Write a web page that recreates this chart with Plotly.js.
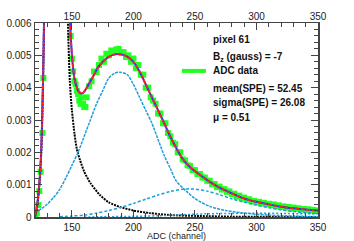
<!DOCTYPE html>
<html><head><meta charset="utf-8">
<script src="https://cdn.plot.ly/plotly-3.0.1.min.js"></script>
<style>html,body{margin:0;padding:0;background:#fff}</style>
</head><body><div id="g" style="width:354px;height:241px"></div>
<script>
// ADC data (green squares)
const dataX = [120.5,121.5,122.7,123.5,124.6,126,126.8,
149,150,151,152,153,154,155,156,157,158,159,160,161,162,
164,166,168,170,172,174,176,178,180,182,184,186,188,190,192,194,196,198,200,
202,204,206,208,210,212,214,216,218,220,222,224,226,228,230,232,234,236,238,240,
242,244,246,248,250,252,254,256,258,260,262,264,266,268,270,272,274,276,278,280,
282,284,286,288,290,292,294,296,298,300,302,304,306,308,310,312,314,316,318,320,
322,324,326,328,330,332,334,336,338,340,342,344,346,348,350];
const dataY = [0.00003,0.00012,0.00037,0.0008,0.0014,0.0026,0.0043,
0.0056,0.0049,0.0045,0.0042,0.0041,0.0039,0.0038,0.0036,0.0035,0.0037,0.0035,0.0034,0.0034,0.0037,
0.00405,0.0042,0.0045,0.00448,0.0047,0.0049,0.0048,0.00505,0.0050,0.00515,0.0051,0.00518,0.0052,0.00508,0.0051,0.00495,0.0050,0.0048,0.0049,
0.0046,0.0047,0.0044,0.0044,0.0040,0.0040,0.0037,0.0036,0.0035,0.0032,0.0032,0.0029,0.0029,0.0026,0.0025,0.0023,0.00225,0.0020,0.0020,0.00178,
0.00175,0.0016,0.00158,0.00145,0.00145,0.00133,0.00133,0.00122,0.00122,0.00112,0.00112,0.00101,0.00102,0.00092,0.00094,0.00085,0.00086,0.00078,0.00079,0.00071,
0.00072,0.00064,0.00066,0.00058,0.0006,0.00053,0.00055,0.00048,0.0005,0.00045,0.00047,0.00042,0.00044,0.00039,0.00041,0.00036,0.00039,0.00033,0.00036,0.00031,
0.00033,0.00029,0.00031,0.00026,0.00029,0.00025,0.00027,0.00023,0.00025,0.00022,0.00024,0.0002,0.00022,0.00019,0.0002];

// total fit
const totX = [120,121,122,123,124,125,125.8,126.4,126.9,127.3,128,130,134,138,142,145,147,148.5,150,151,152,154,156,158,160,162,165,168,170,175,180,185,190,195,200,205,210,215,220,225,230,236,240,244,248,252,256,260,264,268,272,276,280,284,288,292,296,300,305,310,320,330,340,350];
const totY = [0.00005,0.0002,0.00045,0.0008,0.0013,0.002,0.003,0.004,0.005,0.006,0.0085,0.018,0.03,0.033,0.025,0.012,0.0078,0.006,0.005,0.0046,0.0043,0.0040,0.00385,0.00382,0.00388,0.0040,0.0042,0.0044,0.00455,0.0048,0.00495,0.00503,0.00503,0.00496,0.0048,0.0045,0.0041,0.0037,0.0033,0.0029,0.00248,0.00205,0.0018,0.00162,0.00148,0.00136,0.00125,0.00114,0.00104,0.00095,0.00087,0.0008,0.00073,0.00066,0.0006,0.00055,0.0005,0.00047,0.00043,0.00039,0.00032,0.00027,0.00023,0.0002];

// pedestal
const pedX = [120,121,122,123,124,125,125.8,126.4,126.9,127.3,128,130,134,138,142,145,146.8,148.3,150,152,154,156.6,160,165,172.8,180,189,200,213.5,230,254,280,350];
const pedY = [0.00002,0.00015,0.0004,0.00075,0.0012,0.0019,0.0029,0.0039,0.0049,0.0059,0.0084,0.018,0.03,0.033,0.025,0.012,0.006,0.0042,0.0033,0.0026,0.0021,0.00176,0.0014,0.00105,0.00068,0.00045,0.00031,0.0002,0.00012,0.00006,0.00003,0.00001,0.0];

// single photoelectron
const speX = [120,125,130,135,140,145,150,155,160,165,170,175,180,185,189,195,200,205,210,215,220,225,230,235,243,250,262,275,290,310,330,350];
const speY = [0.00015,0.00025,0.0004,0.0006,0.00085,0.0012,0.0016,0.0020,0.0025,0.0030,0.0035,0.0039,0.0043,0.00445,0.00448,0.0044,0.0041,0.0037,0.0033,0.0029,0.0024,0.0019,0.0015,0.0011,0.0008,0.00057,0.00033,0.0002,0.00012,0.00006,0.00003,0.00001];

// two photoelectrons
const pe2X = [140,150,160,170,180,190,200,210,220,230,240,245,250,260,270,280,290,300,310,320,330,340,350];
const pe2Y = [0.00001,0.00003,0.00006,0.00012,0.0002,0.0003,0.00042,0.00055,0.00068,0.00079,0.00086,0.00087,0.00086,0.0008,0.00069,0.00056,0.00046,0.00037,0.00029,0.00022,0.00017,0.00013,0.0001];

// three photoelectrons
const pe3X = [160,180,200,220,240,260,280,300,320,340,350];
const pe3Y = [0.0,0.00001,0.00002,0.00004,0.00007,0.0001,0.00011,0.00012,0.00011,0.0001,0.0001];

const xTicks = [150,200,250,300,350];
const yTicks = [0,0.001,0.002,0.003,0.004,0.005,0.006];
const yTickText = ['0','0.001','0.002','0.003','0.004','0.005','0.006'];

const legendLines = ['pixel 61','B<sub>z</sub> (gauss) = -7','ADC data','mean(SPE) = 52.45','sigma(SPE) = 26.08','\u03bc = 0.51'];
const legendY = [0.916,0.826,0.753,0.663,0.588,0.513];

const blue = '#1a9fdc';
const font = 'Liberation Sans, Arial, sans-serif';

const traces = [
  {x: dataX, y: dataY, type:'scatter', mode:'markers', marker:{symbol:'square', size:6, color:'#22ff22'}, hoverinfo:'skip'},
  {x: pedX, y: pedY, type:'scatter', mode:'lines', line:{color:'#000', width:2, dash:'2px,1px', shape:'spline', smoothing:0.6}, hoverinfo:'skip'},
  {x: speX, y: speY, type:'scatter', mode:'lines', line:{color:blue, width:1.5, dash:'3px,1px', shape:'spline', smoothing:0.8}, hoverinfo:'skip'},
  {x: pe2X, y: pe2Y, type:'scatter', mode:'lines', line:{color:blue, width:1.5, dash:'3px,2px', shape:'spline', smoothing:0.8}, hoverinfo:'skip'},
  {x: pe3X, y: pe3Y, type:'scatter', mode:'lines', line:{color:blue, width:1.5, dash:'2px,2px', shape:'spline', smoothing:0.8}, hoverinfo:'skip'},
  {x: totX, y: totY, type:'scatter', mode:'lines', line:{color:'#2233ff', width:2, shape:'spline', smoothing:0.6}, hoverinfo:'skip'},
  {x: totX, y: totY, type:'scatter', mode:'lines', line:{color:'#ff2222', width:1.8, dash:'4px,1.5px', shape:'spline', smoothing:0.6}, hoverinfo:'skip'},
  {x: [xTicks[0]], y: [0], xaxis:'x2', type:'scatter', mode:'markers', marker:{opacity:0}, hoverinfo:'skip'}
];

const axCommon = {
  ticks:'inside', ticklen:7, tickwidth:1, tickcolor:'#444',
  showline:true, linecolor:'#444', linewidth:1.5,
  showgrid:false, zeroline:false,
  tickfont:{family:font, size:10, color:'#222'}
};

const layout = {
  width:354, height:241,
  margin:{l:35, r:36, t:23, b:24},
  paper_bgcolor:'#fff', plot_bgcolor:'#fff',
  showlegend:false,
  xaxis: Object.assign({}, axCommon, {
    range:[120,350], tickvals:xTicks, mirror:'ticks',
    minor:{dtick:10, tick0:0, ticklen:4, ticks:'inside', tickcolor:'#444'},
    title:{text:'ADC (channel)', font:{family:font, size:9, color:'#222'}, standoff:2}
  }),
  xaxis2: {overlaying:'x', side:'top', range:[120,350], tickvals:xTicks, ticks:'', showline:false, showgrid:false, zeroline:false,
    tickfont:{family:font, size:10, color:'#222'}},
  yaxis: Object.assign({}, axCommon, {
    range:[0,0.006], tickvals:yTicks, ticktext:yTickText, mirror:'ticks',
    minor:{dtick:0.0002, tick0:0, ticklen:4, ticks:'inside', tickcolor:'#444'}
  }),
  shapes:[{type:'line', xref:'paper', yref:'paper', x0:0.519, x1:0.604, y0:0.753, y1:0.753, line:{color:'#22ff22', width:4}}],
  annotations: legendLines.map((t,i)=>({text:'<b>'+t+'</b>', xref:'paper', yref:'paper', x:0.621, y:legendY[i], xanchor:'left', yanchor:'middle', showarrow:false, font:{family:font, size:10, color:'#111'}}))
};

Plotly.newPlot('g', traces, layout, {staticPlot:true, displayModeBar:false});
</script></body></html>
